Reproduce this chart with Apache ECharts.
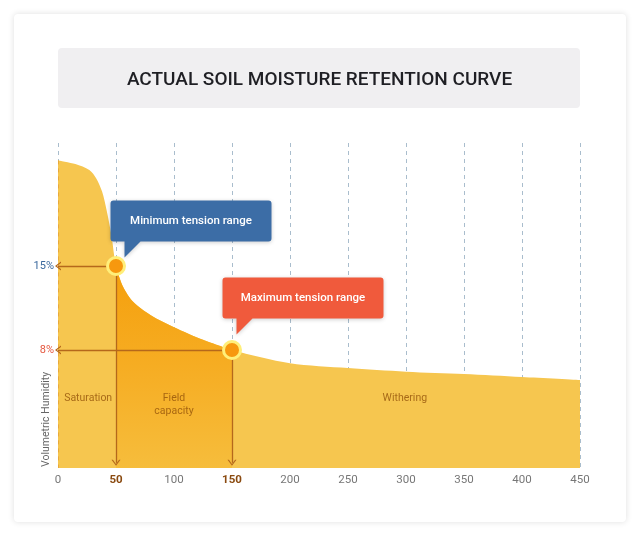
<!DOCTYPE html>
<html><head><meta charset="utf-8">
<script src="https://cdn.jsdelivr.net/npm/echarts@6/dist/echarts.min.js"></script>
<style>
html,body{margin:0;padding:0;background:#fff;}
#card{position:absolute;left:14px;top:14px;width:612px;height:508px;background:#fff;border-radius:4px;box-shadow:0 0 6px rgba(0,0,0,0.13);}
#main{position:absolute;left:0;top:0;width:640px;height:536px;}
</style></head><body>
<div id="card"></div><div id="main"></div>
<script>
// ---- data ----
const curveX = [0, 15, 27, 33, 38, 42, 46, 50, 56, 65, 80, 100, 125, 150, 200, 250, 300, 350, 400, 450];
const curveY = [23.8, 23.5, 23.0, 22.3, 21.2, 19.6, 17.6, 15.0, 13.3, 12.0, 10.9, 9.9, 8.85, 8.0, 6.9, 6.5, 6.2, 6.0, 5.75, 5.5];
const tensionX = [50, 150];
const tensionY = [15, 8];
const tensionLabels = ['15%', '8%'];
const tensionColors = ['#3C6A9E', '#E5573F'];
const calloutTexts = ['Minimum tension range', 'Maximum tension range'];
const calloutColors = ['#3C6DA6', '#F05A3C'];
const zoneLabels = ['Saturation', 'Field\ncapacity', 'Withering'];
const zoneX = [26, 100, 299];
const zoneY = [4.0, 3.45, 4.0];
const xMin = 0, xMax = 450, xStep = 50;
const yMin = -1.83, yMax = 25.25;
const arrowEndY = -1.4;
const titleText = 'ACTUAL SOIL MOISTURE RETENTION CURVE';
const yName = 'Volumetric Humidity';

// ---- build ----
const curve = curveX.map((x, i) => [x, curveY[i]]);
const field = curve.filter(p => p[0] >= tensionX[0] && p[0] <= tensionX[1]);
const arrowPath = 'path://M0,10 L5,0 L10,10 L8.4,10 L5,3.2 L1.6,10 Z';
const bubblePath = 'path://M3,0 H158 Q161,0 161,3 V38 Q161,41 158,41 H30 L14,57 V41 H3 Q0,41 0,38 V3 Q0,0 3,0 Z';
const lineColor = '#B5681B';

const markLines = [];
tensionX.forEach((x, i) => {
  markLines.push([{coord: [x, tensionY[i]]}, {coord: [x, arrowEndY]}]);
  markLines.push([
    {coord: [x, tensionY[i]], label: {show: true, position: 'end', formatter: tensionLabels[i], color: tensionColors[i], fontSize: 11, fontFamily: 'Roboto', distance: 4}},
    {coord: [xMin, tensionY[i]]}
  ]);
});
const calloutOffsets = [[75, -37], [71, -44]];

const chart = echarts.init(document.getElementById('main'), null, {renderer: 'canvas'});
chart.setOption({
  animation: false,
  backgroundColor: 'transparent',
  grid: {left: 58, right: 60, top: 143, bottom: 68},
  xAxis: {
    type: 'value', min: xMin, max: xMax, interval: xStep,
    axisLine: {show: false}, axisTick: {show: false},
    axisLabel: {
      margin: 6, color: '#777', fontSize: 11.5, fontFamily: 'Roboto',
      formatter: v => tensionX.indexOf(v) >= 0 ? '{b|' + v + '}' : String(v),
      rich: {b: {color: '#8A4A10', fontWeight: 'bold', fontSize: 11.5, fontFamily: 'Roboto'}}
    },
    splitLine: {show: true, lineStyle: {color: '#A9BDCD', type: [4, 4], width: 1}}
  },
  yAxis: {
    type: 'value', min: yMin, max: yMax,
    axisLine: {show: false}, axisTick: {show: false}, axisLabel: {show: false}, splitLine: {show: false}
  },
  graphic: [
    {type: 'rect', shape: {x: 58, y: 48, width: 522, height: 60, r: 4}, style: {fill: '#F0EFF1'}, z: 0},
    {type: 'text', x: 319.5, y: 80, style: {text: titleText, fill: '#1F1F24', font: '500 19px Roboto', textAlign: 'center', textVerticalAlign: 'middle'}},
    {type: 'text', x: 46, y: 467, rotation: Math.PI / 2, style: {text: yName, fill: '#666', font: '10.5px Roboto', textAlign: 'left', textVerticalAlign: 'middle'}}
  ],
  series: [
    {
      type: 'line', data: curve, smooth: 0.3, showSymbol: false, z: 2,
      lineStyle: {width: 0}, areaStyle: {color: '#F6C64F', opacity: 1, origin: 'start'}, silent: true,
      markLine: {
        silent: true, symbol: ['none', 'none'], label: {show: false},
        lineStyle: {color: '#E9A93C', type: [4, 4], width: 1}, emphasis: {disabled: true},
        data: [[{coord: [xMin, curveY[0]]}, {coord: [xMin, yMin]}]]
      }
    },
    {
      type: 'line', data: field, smooth: 0.3, showSymbol: false, z: 3,
      lineStyle: {width: 0}, silent: true,
      areaStyle: {opacity: 1, origin: 'start', color: new echarts.graphic.LinearGradient(0, 0, 0, 1, [
        {offset: 0, color: '#F59F0C'}, {offset: 0.5, color: '#F6AD23'}, {offset: 1, color: '#F6BD3C'}
      ])}
    },
    {
      type: 'scatter', data: zoneX.map((x, i) => [x, zoneY[i], zoneLabels[i]]), symbolSize: 0, z: 4, silent: true,
      label: {show: true, position: 'inside', formatter: p => p.data[2], color: '#94520A', fontSize: 10.5, fontFamily: 'Roboto', lineHeight: 13}
    },
    {
      type: 'scatter', data: tensionX.map((x, i) => [x, tensionY[i]]), z: 6, silent: true,
      symbolSize: 17, itemStyle: {color: '#F7980E', borderColor: '#FFEF7A', borderWidth: 3, opacity: 1},
      markLine: {
        silent: true, symbol: ['none', arrowPath], symbolSize: [9, 6], precision: 4,
        lineStyle: {color: lineColor, width: 1.3, type: 'solid'}, label: {show: false},
        emphasis: {disabled: true}, data: markLines, z: 5
      }
    },
    {
      type: 'scatter', z: 8, silent: true,
      data: tensionX.map((x, i) => ({
        value: [x, tensionY[i]], symbol: bubblePath, symbolSize: [161, 57], symbolOffset: calloutOffsets[i],
        itemStyle: {color: calloutColors[i], shadowBlur: 4, shadowColor: 'rgba(0,0,0,0.2)', shadowOffsetY: 1, opacity: 1},
        label: {show: true, position: 'inside', offset: [0, -8], formatter: calloutTexts[i], color: '#fff', fontSize: 11.5, fontWeight: 500, fontFamily: 'Roboto'}
      }))
    }
  ]
});
</script></body></html>
